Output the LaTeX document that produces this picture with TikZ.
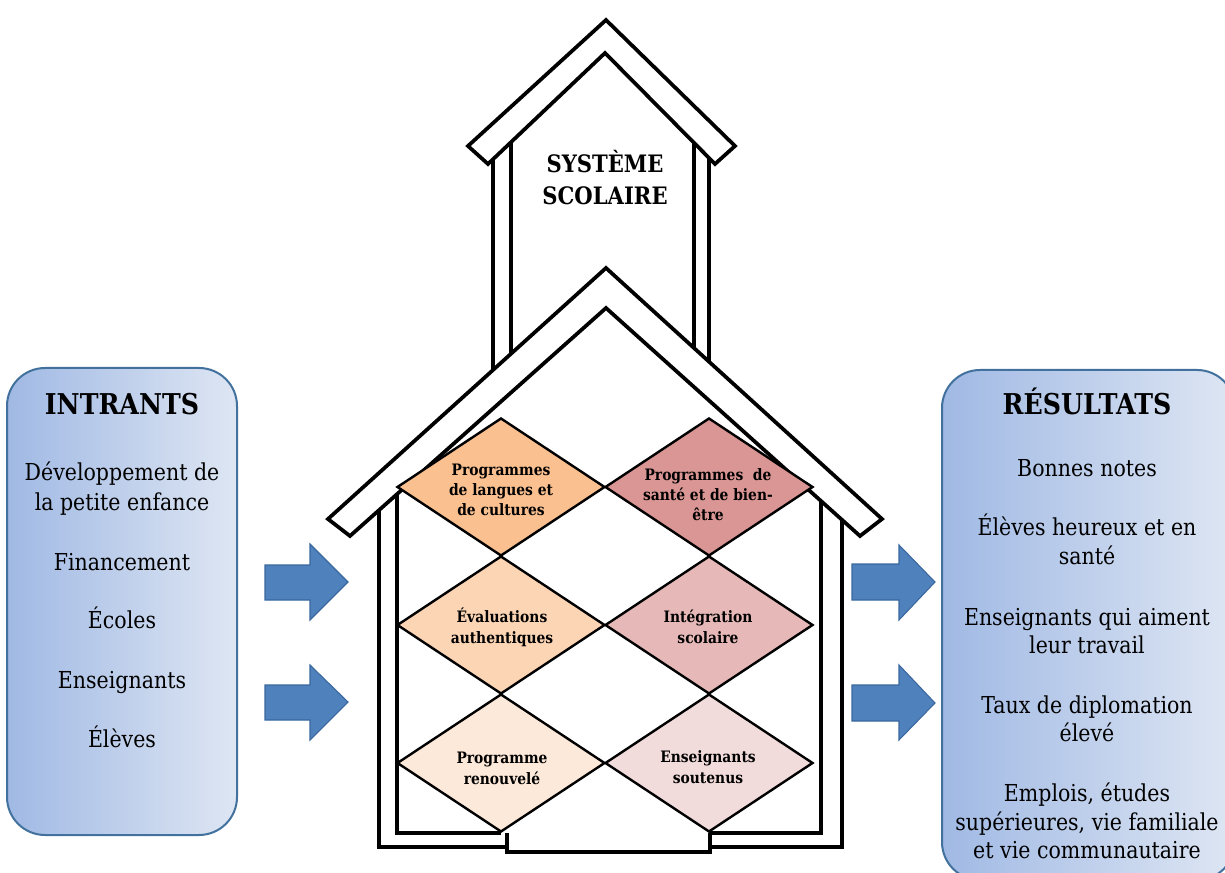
\documentclass[tikz,border=0pt]{standalone}
\usepackage{fontspec}
\setmainfont{DejaVu Serif}[FakeStretch=0.88]
\usetikzlibrary{shapes.geometric}
\definecolor{boxL}{RGB}{160,185,228}
\definecolor{boxR}{RGB}{222,230,243}
\definecolor{boxB}{RGB}{65,113,156}
\definecolor{arrF}{HTML}{4F81BD}
\definecolor{arrB}{RGB}{58,104,158}
\definecolor{oA}{HTML}{FAC090}
\definecolor{oB}{HTML}{FCD5B5}
\definecolor{oC}{HTML}{FDE9D9}
\definecolor{rA}{HTML}{D99694}
\definecolor{rB}{HTML}{E6B9B8}
\definecolor{rC}{HTML}{F2DCDB}
\begin{document}
\begin{tikzpicture}[x=0.75pt,y=-0.75pt,
  house/.style={draw=black,line width=2.8pt,line join=miter},
  roofband/.style={house,fill=white},
  dia/.style={diamond,draw=black,line width=1.8pt,minimum width=156pt,minimum height=103.5pt,inner sep=0pt},
  sidebox/.style={rectangle,rounded corners=28.5pt,draw=boxB,line width=1.5pt,left color=boxL,right color=boxR,inner sep=0pt},
  blockarrow/.style={fill=arrF,draw=arrB,line width=0.8pt,line join=miter},
  side/.style={anchor=base,inner sep=0pt,font=\fontsize{17.5}{21}\selectfont},
  ttl/.style={anchor=base,inner sep=0pt,font=\bfseries\fontsize{21.5}{26}\selectfont},
  twr/.style={anchor=base,inner sep=0pt,font=\bfseries\fontsize{18}{21}\selectfont},
  dtxt/.style={anchor=base,inner sep=0pt,font=\bfseries\fontsize{11.8}{14}\selectfont}]
\useasboundingbox (0,0) rectangle (1225,873);
\clip (0,0) rectangle (1225,873);
\fill[white] (0,0) rectangle (1225,873);

% side boxes
\node[sidebox,minimum width=172.5pt,minimum height=350.25pt] (inbox) at (122,601.5) {};
\node[sidebox,minimum width=219.75pt,minimum height=382.5pt] (outbox) at (1088.5,625) {};

% tower
\path[roofband] (468,146) -- (606,20) -- (735,146) -- (715,164) -- (605,53) -- (488,164) -- cycle;
\draw[house] (493,159.3) -- (493,370);
\draw[house] (511,142.2) -- (511,353.8);
\draw[house] (694,142.8) -- (694,348);
\draw[house] (709,158) -- (709,361.7);

% main roof
\path[roofband] (328,519) -- (606,268) -- (882,519) -- (860,536) -- (606,308) -- (350,536) -- cycle;

% walls
\draw[house] (379,510.2) -- (379,847) -- (507,847);
\draw[house] (842,519.8) -- (842,847) -- (710,847);
\draw[house] (397,494.1) -- (397,833) -- (501,833);
\draw[house] (821,501) -- (821,833) -- (709,833);
\draw[house] (507,833) -- (507,852) -- (710,852) -- (710,833);

% diamonds
\node[dia,fill=oA] (d11) at (501,487) {};
\node[dia,fill=rA] (d12) at (709,487) {};
\node[dia,fill=oB] (d21) at (501,625) {};
\node[dia,fill=rB] (d22) at (709,625) {};
\node[dia,fill=oC] (d31) at (501,763) {};
\node[dia,fill=rC] (d32) at (709,763) {};

% diamond texts
\node[dtxt] (t11a) at (501,475) {Programmes};
\node[dtxt] (t11b) at (501,495) {de langues et};
\node[dtxt] (t11c) at (501,515) {de cultures};
\node[dtxt] (t12a) at (708,480) {Programmes~ de};
\node[dtxt] (t12b) at (708,501) {santé et de bien-};
\node[dtxt] (t12c) at (708,521) {être};
\node[dtxt] (t21a) at (502,622) {Évaluations};
\node[dtxt] (t21b) at (502,643) {authentiques};
\node[dtxt] (t22a) at (708,622) {Intégration};
\node[dtxt] (t22b) at (708,643) {scolaire};
\node[dtxt] (t31a) at (502,763) {Programme};
\node[dtxt] (t31b) at (502,784) {renouvelé};
\node[dtxt] (t32a) at (708,762) {Enseignants};
\node[dtxt] (t32b) at (708,783) {soutenus};

% tower text
\node[twr] (sys1) at (605,173) {SYSTÈME};
\node[twr] (sys2) at (605,205) {SCOLAIRE};

% arrows
\path[blockarrow] (265,565) -- (310,565) -- (310,544) -- (348,582) -- (310,620) -- (310,600) -- (265,600) -- cycle;
\path[blockarrow] (265,685) -- (310,685) -- (310,665) -- (348,702) -- (310,740) -- (310,720) -- (265,720) -- cycle;
\path[blockarrow] (852,564) -- (899,564) -- (899,545) -- (935,582) -- (899,620) -- (899,600) -- (852,600) -- cycle;
\path[blockarrow] (852,685) -- (899,685) -- (899,665) -- (935,703) -- (899,740) -- (899,721) -- (852,721) -- cycle;

% left texts
\node[ttl] (intr) at (122,415) {INTRANTS};
\node[side] (l1a) at (122,481) {Développement de};
\node[side] (l1b) at (122,510) {la petite enfance};
\node[side] (l2) at (122,570) {Financement};
\node[side] (l3) at (122,628) {Écoles};
\node[side] (l4) at (122,688) {Enseignants};
\node[side] (l5) at (122,747) {Élèves};

% right texts
\node[ttl] (res) at (1087,415) {RÉSULTATS};
\node[side] (r1) at (1087,477) {Bonnes notes};
\node[side] (r2a) at (1087,535) {Élèves heureux et en};
\node[side] (r2b) at (1087,564) {santé};
\node[side] (r3a) at (1087,625) {Enseignants qui aiment};
\node[side] (r3b) at (1087,653) {leur travail};
\node[side] (r4a) at (1087,713) {Taux de diplomation};
\node[side] (r4b) at (1087,741) {élevé};
\node[side] (r5a) at (1087,801) {Emplois, études};
\node[side] (r5b) at (1087,830) {supérieures, vie familiale};
\node[side] (r5c) at (1087,858) {et vie communautaire};
\end{tikzpicture}
\end{document}
